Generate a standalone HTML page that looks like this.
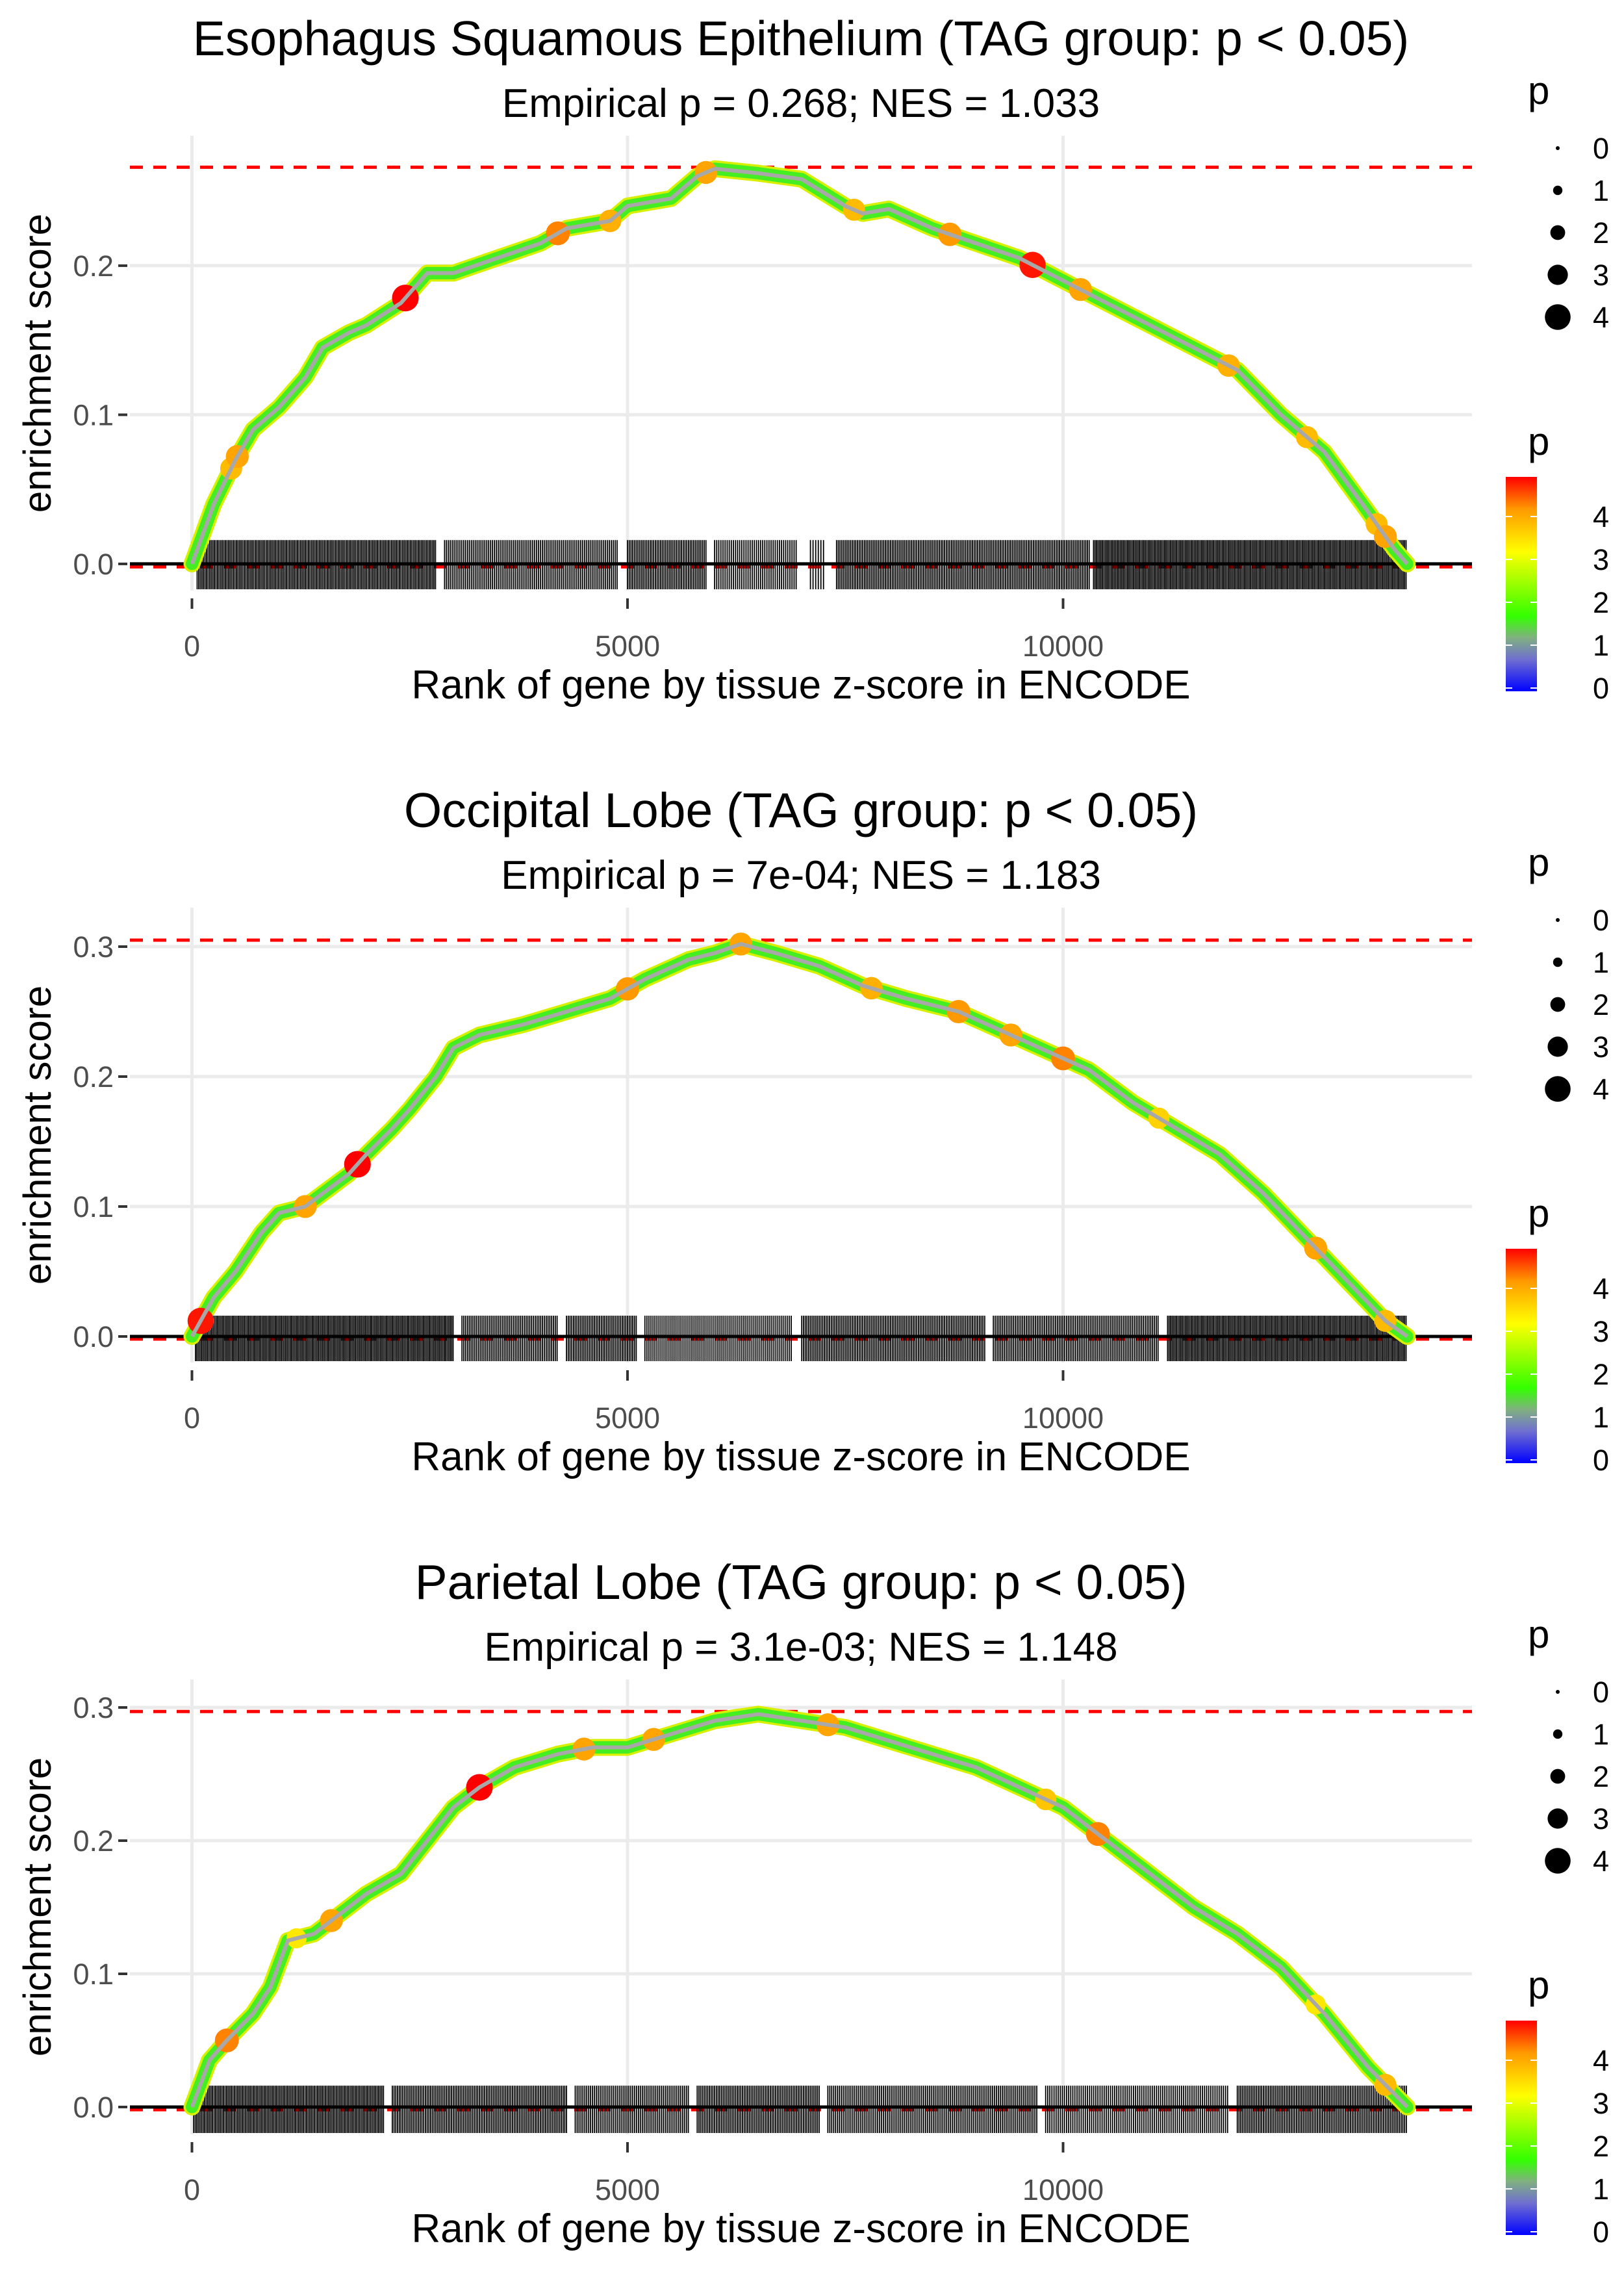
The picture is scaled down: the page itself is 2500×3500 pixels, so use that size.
<!DOCTYPE html>
<html><head><meta charset="utf-8">
<style>
html,body{margin:0;padding:0;background:#fff;}
svg{display:block;font-family:"Liberation Sans",Arial,sans-serif;}
</style></head>
<body>
<svg id="chart" xmlns="http://www.w3.org/2000/svg" width="2500" height="3500" viewBox="0 0 2500 3500">
<defs>
<linearGradient id="pgrad" x1="0" y1="1" x2="0" y2="0">
<stop offset="0" stop-color="#0000FF"/>
<stop offset="0.15" stop-color="#7070D0"/>
<stop offset="0.25" stop-color="#80B080"/>
<stop offset="0.35" stop-color="#33FF00"/>
<stop offset="0.65" stop-color="#FFFF00"/>
<stop offset="0.85" stop-color="#FF9900"/>
<stop offset="1" stop-color="#FF0000"/>
</linearGradient>
</defs>
</svg>
<script>
// ---- data ----
const panelTitles = ["Esophagus Squamous Epithelium (TAG group: p < 0.05)","Occipital Lobe (TAG group: p < 0.05)","Parietal Lobe (TAG group: p < 0.05)"];
const panelSubtitles = ["Empirical p = 0.268; NES = 1.033","Empirical p = 7e-04; NES = 1.183","Empirical p = 3.1e-03; NES = 1.148"];
const maxES = [0.266, 0.305, 0.297];
const yTicks1 = [0, 0.1, 0.2];
const yTicks2 = [0, 0.1, 0.2, 0.3];
const yTicks3 = [0, 0.1, 0.2, 0.3];
const xTicks = [0, 5000, 10000];
const ranks1 = [0,250,500,700,1000,1300,1500,1800,2000,2400,2700,3000,3500,4000,4300,4800,5000,5500,5800,6000,6500,7000,7500,7700,8000,8500,9000,9500,10000,10500,11000,11500,12000,12500,13000,13500,13800,13950];
const es1 = [0,0.04,0.07,0.09,0.105,0.125,0.145,0.155,0.16,0.175,0.195,0.195,0.205,0.215,0.225,0.23,0.24,0.245,0.26,0.265,0.262,0.258,0.24,0.235,0.238,0.225,0.215,0.205,0.19,0.175,0.16,0.145,0.13,0.1,0.075,0.035,0.01,0];
const ranks2 = [0,250,500,800,1000,1300,1500,1800,2000,2300,2500,2800,3000,3300,3800,4300,4800,5200,5700,6000,6300,6700,7200,7700,8200,8800,9300,9800,10300,10800,11300,11800,12300,12800,13300,13700,13950];
const es2 = [0,0.03,0.05,0.08,0.095,0.1,0.11,0.125,0.14,0.16,0.175,0.2,0.222,0.232,0.24,0.25,0.26,0.275,0.29,0.295,0.302,0.295,0.285,0.27,0.26,0.25,0.235,0.22,0.205,0.18,0.16,0.14,0.11,0.075,0.04,0.012,0];
const ranks3 = [0,200,400,700,900,1100,1400,1700,2000,2400,2700,3000,3300,3700,4200,4600,5000,5500,6000,6500,7000,7500,8000,8500,9000,9500,10000,10500,11000,11500,12000,12500,13000,13500,13800,13950];
const es3 = [0,0.035,0.05,0.07,0.09,0.125,0.13,0.145,0.16,0.175,0.2,0.225,0.24,0.255,0.265,0.27,0.27,0.28,0.29,0.295,0.29,0.285,0.275,0.265,0.255,0.24,0.225,0.2,0.175,0.15,0.13,0.105,0.07,0.03,0.01,0];
const hiRanks1 = [450,520,2450,4200,4800,5900,7600,8700,9650,10200,11900,12800,13600,13700];
const hiP1 = [3.6,3.8,4.6,4.0,3.7,3.8,3.6,3.9,4.5,3.8,3.7,3.6,3.6,3.8];
const hiRanks2 = [100,1300,1900,5000,6300,7800,8800,9400,10000,11100,12900,13700];
const hiP2 = [4.5,3.8,4.6,3.9,3.8,3.7,3.9,3.8,4.0,3.4,3.8,3.6];
const hiRanks3 = [400,1200,1600,3300,4500,5300,7300,9800,10400,12900,13700];
const hiP3 = [4.0,3.2,3.8,4.6,3.8,3.8,3.8,3.5,4.0,3.2,3.6];
// barcode runs: [start, end, step]
const bars1 = [[60,2800,18],[2900,4900,22],[5000,5900,20],[6000,6950,24],[7100,7250,30],[7400,10300,20],[10350,13950,17]];
const bars2 = [[40,3000,17],[3100,4200,21],[4300,5100,20],[5200,6900,23],[7000,9100,20],[9200,11100,21],[11200,13950,17]];
const bars3 = [[20,2200,18],[2300,4300,20],[4400,5700,22],[5800,7200,20],[7300,9700,22],[9800,11900,24],[12000,13950,20]];

const panelsRanks=[ranks1,ranks2,ranks3], panelsES=[es1,es2,es3];
const panelsHiR=[hiRanks1,hiRanks2,hiRanks3], panelsHiP=[hiP1,hiP2,hiP3];
const panelsBars=[bars1,bars2,bars3], panelsYT=[yTicks1,yTicks2,yTicks3];
const yDomains=[[-0.0179,0.2871],[-0.02,0.33],[-0.0205,0.321]];

const NS="http://www.w3.org/2000/svg";
const svg=document.getElementById('chart');
function mk(tag,attrs,parent,text){const e=document.createElementNS(NS,tag);for(const k in attrs)e.setAttribute(k,attrs[k]);if(text!==undefined)e.textContent=text;(parent||svg).appendChild(e);return e;}
function pcolor(p){
  const stops=[[0,[0,0,255]],[0.7,[112,112,208]],[1.15,[128,176,128]],[1.6,[51,255,0]],[3,[255,255,0]],[3.9,[255,153,0]],[4.6,[255,0,0]]];
  for(let i=1;i<stops.length;i++){if(p<=stops[i][0]){const a=stops[i-1],b=stops[i];const t=(p-a[0])/(b[0]-a[0]);const c=a[1].map((v,j)=>Math.round(v+(b[1][j]-v)*t));return `rgb(${c})`;}}
  return 'rgb(255,0,0)';
}
const L=200,R=2266,H=700;
const xs=r=>295.5+r*0.13410;

for(let i=0;i<3;i++){
  const off=i*1188, top=209+off, bot=top+H;
  const [d0,d1]=yDomains[i];
  const ys=v=>bot-(v-d0)/(d1-d0)*H;
  const g=mk('g',{});
  
  
  const t=mk('text',{x:1233,y:85+off,'text-anchor':'middle','font-size':75,fill:'#000'},g,panelTitles[i]);
  
  
  const st=mk('text',{x:1233,y:180+off,'text-anchor':'middle','font-size':62,fill:'#000'},g,panelSubtitles[i]);
  
  
  // grid
  panelsYT[i].forEach(v=>{
    const gl=mk('line',{x1:L,x2:R,y1:ys(v),y2:ys(v),stroke:'#EBEBEB','stroke-width':5},g);
    
    
    const tk=mk('line',{x1:182,x2:196,y1:ys(v),y2:ys(v),stroke:'#333','stroke-width':4},g);
    
    
    const tl=mk('text',{x:175,y:ys(v)+16,'text-anchor':'end','font-size':45,fill:'#4D4D4D'},g,v.toFixed(1));
    
    
  });
  xTicks.forEach(v=>{
    const gl=mk('line',{x1:xs(v),x2:xs(v),y1:top,y2:bot,stroke:'#EBEBEB','stroke-width':5},g);
    
    
    const tk=mk('line',{x1:xs(v),x2:xs(v),y1:bot+12,y2:bot+28,stroke:'#333','stroke-width':4},g);
    
    
    const tl=mk('text',{x:xs(v),y:1010+off,'text-anchor':'middle','font-size':45,fill:'#4D4D4D'},g,String(v));
    
    
  });
  // dashed red lines
  const rl=mk('line',{x1:L,x2:R,y1:ys(maxES[i]),y2:ys(maxES[i]),stroke:'#FF0000','stroke-width':5,'stroke-dasharray':'20 16'},g);
  
  
  const rl0=mk('line',{x1:L,x2:R,y1:ys(-0.002),y2:ys(-0.002),stroke:'#FF0000','stroke-width':5,'stroke-dasharray':'20 16'},g);
  
  
  // barcode
  let dpath='';
  const btop=ys(0.016), bbot=ys(d0)-2;
  panelsBars[i].forEach(([s,e,st])=>{for(let r=s;r<=e;r+=st){const x=xs(r).toFixed(1);dpath+=`M${x} ${btop}V${bbot}`;}});
  const bc=mk('path',{d:dpath,stroke:'#000','stroke-width':1.8},g);
  
  
  // zero line
  const zl=mk('line',{x1:L,x2:R,y1:ys(0),y2:ys(0),stroke:'#000','stroke-width':5},g);
  
  
  // curve
  const pts=panelsRanks[i].map((r,j)=>xs(r).toFixed(1)+','+ys(panelsES[i][j]).toFixed(1)).join(' ');
  const c1=mk('polyline',{points:pts,fill:'none',stroke:'#D8F000','stroke-width':26,'stroke-linejoin':'round','stroke-linecap':'round'},g);
  
  
  const c2=mk('polyline',{points:pts,fill:'none',stroke:'#44EE22','stroke-width':19,'stroke-linejoin':'round','stroke-linecap':'round'},g);
  
  
  panelsHiR[i].forEach((r,j)=>{
    const idx=panelsRanks[i].findIndex(v=>v>=r);
    const r0=panelsRanks[i][idx-1]??0, r1=panelsRanks[i][idx]??r, e0=panelsES[i][idx-1]??0, e1=panelsES[i][idx]??0;
    const es=r1===r0?e1:e0+(e1-e0)*(r-r0)/(r1-r0);
    const p=panelsHiP[i][j];
    const c=mk('circle',{cx:xs(r),cy:ys(es),r:4+p*3.6,fill:pcolor(p)},g);
    
    
  });
  const c3=mk('polyline',{points:pts,fill:'none',stroke:'#A8A8A8','stroke-width':6,'stroke-linejoin':'round'},g);
  
  
  // axis labels
  const xl=mk('text',{x:1233,y:1075+off,'text-anchor':'middle','font-size':62,fill:'#000'},g,'Rank of gene by tissue z-score in ENCODE');
  
  
  const yl=mk('text',{x:0,y:0,'text-anchor':'middle','font-size':60,fill:'#000',transform:`translate(78 ${top+350}) rotate(-90)`},g,'enrichment score');
  
  
  // size legend
  const lg=mk('g',{},g);
  
  
  mk('text',{x:2352,y:160+off,'font-size':60,fill:'#000'},lg,'p');
  [0,1,2,3,4].forEach(v=>{
    const cy=228+off+v*65;
    const c=mk('circle',{cx:2398,cy:cy,r:3+v*4.2,fill:'#000'},lg);
    
    
    mk('text',{x:2452,y:cy+16,'font-size':45,fill:'#000'},lg,String(v));
  });
  // color legend
  const cg=mk('g',{},g);
  
  
  mk('text',{x:2352,y:700+off,'font-size':60,fill:'#000'},cg,'p');
  const cbTop=734+off, cbBot=1064+off;
  const cb=mk('rect',{x:2318,y:cbTop,width:48,height:cbBot-cbTop,fill:'url(#pgrad)'},cg);
  
  
  [0,1,2,3,4].forEach(v=>{
    const y=cbBot-5-v*66;
    mk('line',{x1:2318,x2:2328,y1:y,y2:y,stroke:'#fff','stroke-width':2},cg);
    mk('line',{x1:2356,x2:2366,y1:y,y2:y,stroke:'#fff','stroke-width':2},cg);
    mk('text',{x:2452,y:y+16,'font-size':45,fill:'#000'},cg,String(v));
  });
}
</script>
</body></html>
